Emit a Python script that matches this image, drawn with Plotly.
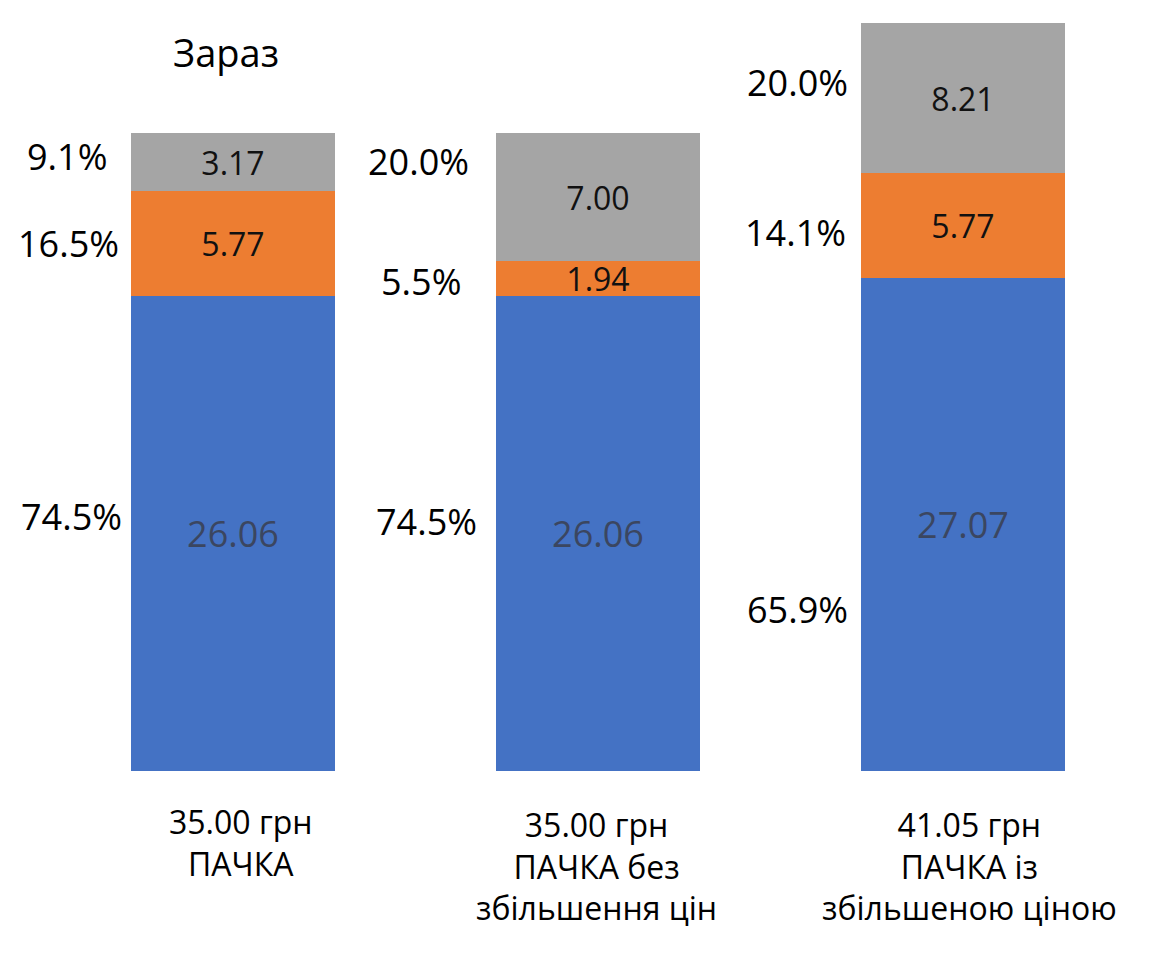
import plotly.graph_objects as go

# ---- data ----
categories = ["35.00 грн<br>ПАЧКА",
              "35.00 грн<br>ПАЧКА без<br>збільшення цін",
              "41.05 грн<br>ПАЧКА із<br>збільшеною ціною"]
blue_vals = [26.06, 26.06, 27.07]
orange_vals = [5.77, 1.94, 5.77]
gray_vals = [3.17, 7.00, 8.21]
title_text = "Зараз"

series = [blue_vals, orange_vals, gray_vals]
colors = ["#4472C4", "#ED7D31", "#A5A5A5"]
text_colors = ["#3b4660", "#111111", "#111111"]
text_sizes = [36, 32, 32]

FONT = "Open Sans"
xs = list(range(len(categories)))
totals = [sum(s[i] for s in series) for i in xs]

fig = go.Figure()
for vals, col, tcol, tsz in zip(series, colors, text_colors, text_sizes):
    fig.add_trace(go.Bar(
        x=xs, y=vals, marker=dict(color=col, line=dict(width=0)),
        width=0.559,
        texttemplate="%{y:.2f}", textposition="inside",
        insidetextanchor="middle", textangle=0, constraintext="none",
        insidetextfont=dict(family=FONT, size=tsz, color=tcol),
        hoverinfo="skip", showlegend=False,
    ))

# percentage labels (left of each segment) -- pixel tweaks only
pct_xshift = [[-162, -165, -166], [-172, -177, -180], [-165, -167, -165]]
pct_yshift = [[17, 0, 6], [12, -3, 36], [-85, -7, 15]]
annotations = []
for i in xs:
    base = 0
    for k, vals in enumerate(series):
        v = vals[i]
        annotations.append(dict(
            x=i, y=base + v / 2, xref="x", yref="y",
            text=f"{v / totals[i] * 100:.1f}%", showarrow=False,
            xshift=pct_xshift[i][k], yshift=pct_yshift[i][k],
            font=dict(family=FONT, size=36, color="#000000"),
        ))
        base += v

# category labels under bars
cat_xshift = [8, -2, 7]
cat_yshift = [-27, -30, -30]
for i in xs:
    annotations.append(dict(
        x=i, y=0, xref="x", yref="y", yanchor="top",
        text=categories[i], showarrow=False, align="center",
        xshift=cat_xshift[i], yshift=cat_yshift[i],
        font=dict(family=FONT, size=32, color="#000000"),
    ))

# title (pixel position converted to paper fraction)
pw = 1176 - 51 - 31
ph = 959 - 23 - 188
annotations.append(dict(
    x=(226 - 51) / pw, y=(959 - 52 - 188) / ph,
    xref="paper", yref="paper", xanchor="center", yanchor="middle",
    showarrow=False, text=title_text,
    font=dict(family=FONT, size=38, color="#000000"),
))

fig.update_layout(
    width=1176, height=959,
    margin=dict(l=51, r=31, t=23, b=188),
    barmode="stack", bargap=0,
    paper_bgcolor="white", plot_bgcolor="white",
    xaxis=dict(range=[-0.5, len(xs) - 0.5], visible=False),
    yaxis=dict(range=[0, max(totals)], visible=False),
    annotations=annotations,
)

fig.write_html("out.html")
